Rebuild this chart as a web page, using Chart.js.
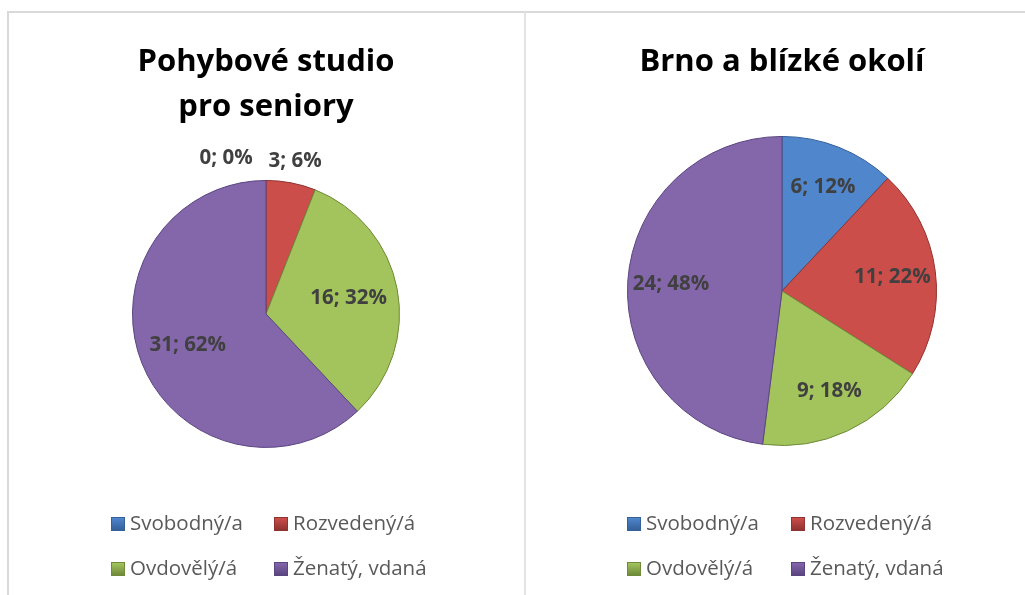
<!DOCTYPE html>
<html>
<head>
<meta charset="utf-8">
<script src="https://cdn.jsdelivr.net/npm/chart.js@4.4.1/dist/chart.umd.min.js"></script>
<style>
  body { margin: 0; background: #fff; font-family: "Open Sans", sans-serif; }
  .panel { position: absolute; top: 11px; height: 584px; border-top: 2px solid #d9d9d9; }
  #left { left: 7px; width: 515px; border-left: 2px solid #d9d9d9; border-right: 2px solid #d9d9d9; }
  #right { left: 524px; width: 501px; border-left: 2px solid #e3e3e3; }
  .panel canvas { position: absolute; left: 0; top: 0; }
  .legend { position: absolute; font-size: 20.5px; color: #595959; }
  .legend .item { position: absolute; white-space: nowrap; line-height: 24px; }
  .legend .box { display: inline-block; width: 14px; height: 14px; margin-right: 5px; vertical-align: -1px; }
</style>
</head>
<body>
<div class="panel" id="left"><canvas id="studioChart" width="515" height="582"></canvas><div class="legend" id="studioLegend"></div></div>
<div class="panel" id="right"><canvas id="brnoChart" width="501" height="582"></canvas><div class="legend" id="brnoLegend"></div></div>
<script>
const categories = ['Svobodný/a', 'Rozvedený/á', 'Ovdovělý/á', 'Ženatý, vdaná'];
const studioValues = [0, 3, 16, 31];
const brnoValues = [6, 11, 9, 24];
const studioTitle = ['Pohybové studio', 'pro seniory'];
const brnoTitle = 'Brno a blízké okolí';
const sliceColors = ['#4f86cc', '#cc4e4b', '#a3c45c', '#8466ab'];
const sliceEdges = ['#35609a', '#8f3230', '#6f8a3a', '#5a4580'];

// radial fill with darker rim, gives a bit of the bevel look
function sliceFill(ctx) {
    const arc = ctx.element;
    const i = ctx.dataIndex;
    if (!arc || arc.outerRadius === undefined || !arc.outerRadius) return sliceColors[i];
    const g = ctx.chart.ctx.createRadialGradient(arc.x, arc.y, 0, arc.x, arc.y, arc.outerRadius);
    g.addColorStop(0, sliceColors[i]);
    g.addColorStop(0.88, sliceColors[i]);
    g.addColorStop(1, sliceEdges[i]);
    return g;
}

const sliceLabels = {
    id: 'sliceLabels',
    afterDatasetsDraw(chart, args, opts) {
        const ctx = chart.ctx;
        const data = chart.data.datasets[0].data;
        const total = data.reduce((a, b) => a + b, 0);
        const arcs = chart.getDatasetMeta(0).data;
        ctx.save();
        ctx.font = 'bold 20.5px "Open Sans"';
        ctx.fillStyle = '#404040';
        ctx.textAlign = 'center';
        ctx.textBaseline = 'middle';
        const outside = [];
        const placed = arcs.map((arc, i) => {
            const pct = Math.round(data[i] / total * 100);
            const text = data[i] + '; ' + pct + '%';
            const mid = (arc.startAngle + arc.endAngle) / 2;
            const small = pct < 10;
            const dist = small ? arc.outerRadius + 22 : arc.outerRadius * opts.inside;
            const p = { text, x: arc.x + Math.cos(mid) * dist, y: arc.y + Math.sin(mid) * dist, w: ctx.measureText(text).width };
            if (small) outside.push(p);
            return p;
        });
        // small slices sit above the pie, push earlier ones left when they collide
        for (let k = outside.length - 2; k >= 0; k--) {
            const a = outside[k], b = outside[k + 1];
            const overlap = (a.x + a.w / 2 + 16) - (b.x - b.w / 2);
            if (overlap > 0) a.x -= overlap;
        }
        placed.forEach(p => ctx.fillText(p.text, p.x, p.y));
        ctx.restore();
    }
};

function makePie(canvasId, values, title, titlePadBottom, padding, inside) {
    return new Chart(document.getElementById(canvasId), {
        type: 'pie',
        data: {
            labels: categories,
            datasets: [{
                data: values,
                backgroundColor: sliceFill,
                borderColor: sliceEdges,
                borderWidth: 1
            }]
        },
        options: {
            responsive: false,
            animation: false,
            rotation: 0,
            layout: { padding },
            plugins: {
                legend: { display: false },
                tooltip: { enabled: false },
                title: {
                    display: true,
                    text: title,
                    color: '#000',
                    font: { family: '"Open Sans"', size: 31, weight: 'bold', lineHeight: 1.45 },
                    padding: { top: 27, bottom: titlePadBottom }
                },
                sliceLabels: { inside }
            }
        },
        plugins: [sliceLabels]
    });
}

function buildLegend(chart, el, cols, rows) {
    categories.forEach((name, i) => {
        const item = document.createElement('div');
        item.className = 'item';
        item.style.left = cols[i % 2] + 'px';
        item.style.top = rows[Math.floor(i / 2)] + 'px';
        const box = document.createElement('span');
        box.className = 'box';
        box.style.background = 'linear-gradient(to bottom, ' + sliceColors[i] + ', ' + sliceEdges[i] + ')';
        box.style.border = '1px solid ' + sliceEdges[i];
        box.style.boxSizing = 'border-box';
        item.appendChild(box);
        item.appendChild(document.createTextNode(name));
        el.appendChild(item);
    });
}

document.addEventListener('DOMContentLoaded', () => {
    const studio = makePie('studioChart', studioValues, studioTitle, 50, { left: 123, right: 124, top: 0, bottom: 147 }, 0.63);
    const brno = makePie('brnoChart', brnoValues, brnoTitle, 51, { left: 100, right: 89, top: 0, bottom: 149 }, 0.72);
    buildLegend(studio, document.getElementById('studioLegend'), [102, 265], [497, 542]);
    buildLegend(brno, document.getElementById('brnoLegend'), [101, 265], [497, 542]);
});
</script>
</body>
</html>
